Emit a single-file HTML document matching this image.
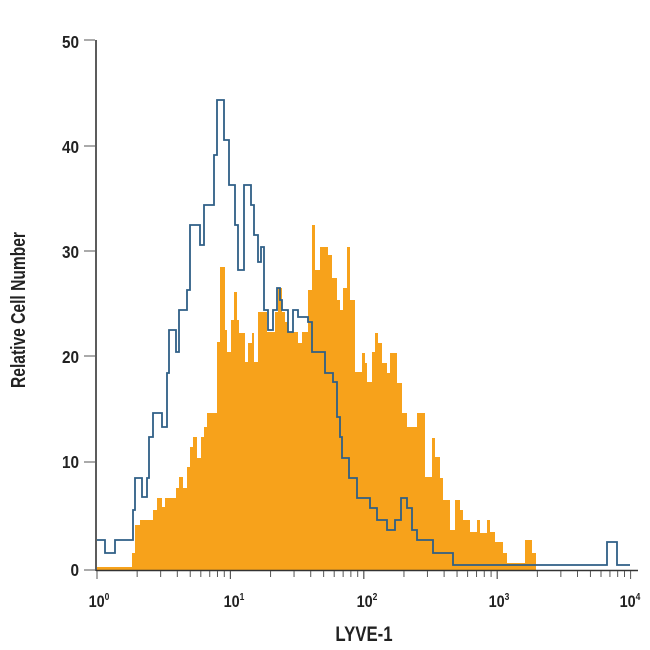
<!DOCTYPE html>
<html><head><meta charset="utf-8"><style>
html,body{margin:0;padding:0;background:#fff;}
svg{display:block;}
text{font-family:"Liberation Sans",sans-serif;font-weight:bold;fill:#222;}
</style></head><body>
<svg id="s" width="650" height="650" viewBox="0 0 650 650" xmlns="http://www.w3.org/2000/svg">
<path fill="#f7a21b" d="M97,570 V567 H132 V553 H135 V525 H140 V520 H153 V510 H157 V498 H162 V507 H165 V498 H176 V488 H179 V477 H183 V488 H187 V467 H190 V447 H193 V437 H197 V458 H201 V437 H204 V427 H207 V413 H217 V342 H220 V267 H225 V330 H227 V352 H231 V320 H234 V292 H237 V320 H239 V333 H245 V362 H248 V343 H252 V333 H254 V362 H258 V312 H267 V332 H275 V312 H278 V288 H282 V312 H285 V322 H288 V332 H298 V343 H302 V332 H308 V290 H312 V225 H315 V270 H320 V247 H328 V255 H332 V278 H337 V300 H340 V310 H343 V288 H347 V247 H350 V300 H355 V372 H362 V353 H365 V363 H367 V382 H372 V352 H375 V333 H378 V343 H382 V363 H387 V373 H390 V353 H397 V383 H402 V413 H407 V427 H417 V413 H425 V477 H432 V438 H435 V457 H440 V478 H443 V500 H450 V530 H455 V500 H460 V510 H463 V520 H470 V532 H477 V520 H480 V533 H487 V520 H490 V532 H495 V542 H503 V553 H507 V563 H525 V540 H532 V553 H536 V570 Z"/>
<path fill="none" stroke="#2f5f86" stroke-width="1.8" d="M97,540 H105 V553 H115 V540 H133 V510 H135 V478 H142 V497 H147 V478 H149 V437 H153 V413 H162 V427 H167 V373 H169 V330 H176 V352 H179 V310 H187 V290 H190 V225 H200 V245 H204 V205 H214 V155 H217 V100 H224 V140 H229 V185 H235 V225 H238 V270 H244 V185 H251 V205 H254 V235 H258 V262 H261 V247 H264 V310 H268 V330 H273 V310 H277 V288 H280 V300 H282 V310 H288 V332 H293 V310 H298 V317 H308 V322 H312 V352 H325 V373 H333 V382 H337 V417 H340 V437 H342 V458 H349 V478 H357 V498 H370 V508 H377 V520 H387 V530 H395 V520 H401 V498 H407 V508 H412 V530 H417 V540 H433 V553 H453 V565 H607 V542 H613 V542 H617 V565 H630"/>
<g stroke="#333" stroke-width="1.6" fill="none">
<line x1="96" y1="40" x2="96" y2="571"/>
<line x1="96" y1="570.5" x2="638" y2="570.5"/>
</g>
<g id="ticks" stroke="#555" stroke-width="1"></g>
<g font-size="18" text-anchor="end">
<text x="0" y="0" transform="translate(79,48) scale(0.85,1)">50</text>
<text x="0" y="0" transform="translate(79,153) scale(0.85,1)">40</text>
<text x="0" y="0" transform="translate(79,258) scale(0.85,1)">30</text>
<text x="0" y="0" transform="translate(79,363) scale(0.85,1)">20</text>
<text x="0" y="0" transform="translate(79,468) scale(0.85,1)">10</text>
<text x="0" y="0" transform="translate(79,576) scale(0.85,1)">0</text>
</g>
<g font-size="17" text-anchor="middle">
<text x="0" y="0" transform="translate(99,607) scale(0.85,1)">10<tspan font-size="10" dy="-7">0</tspan></text>
<text x="0" y="0" transform="translate(234,607) scale(0.85,1)">10<tspan font-size="10" dy="-7">1</tspan></text>
<text x="0" y="0" transform="translate(367,607) scale(0.85,1)">10<tspan font-size="10" dy="-7">2</tspan></text>
<text x="0" y="0" transform="translate(499,607) scale(0.85,1)">10<tspan font-size="10" dy="-7">3</tspan></text>
<text x="0" y="0" transform="translate(630,607) scale(0.85,1)">10<tspan font-size="10" dy="-7">4</tspan></text>
</g>
<text x="0" y="0" font-size="21" text-anchor="middle" transform="translate(364,641) scale(0.8,1)">LYVE-1</text>
<text x="0" y="0" font-size="20" text-anchor="middle" transform="translate(25,310) rotate(-90) scale(0.78,1)">Relative Cell Number</text>
</svg>
<script>
var g=document.getElementById('ticks'),ns='http://www.w3.org/2000/svg';
function L(x1,y1,x2,y2){var l=document.createElementNS(ns,'line');l.setAttribute('x1',x1);l.setAttribute('y1',y1);l.setAttribute('x2',x2);l.setAttribute('y2',y2);g.appendChild(l);}
[40,146,251,356,462,570].forEach(function(y){L(84,y,95,y);});
var x0=97,d=133.4;
for(var k=0;k<4;k++){for(var m=1;m<=10;m++){var x=x0+d*(k+Math.log10(m));L(x,571,x,(m==1||m==10)?579:577);}}
</script>
</body></html>
